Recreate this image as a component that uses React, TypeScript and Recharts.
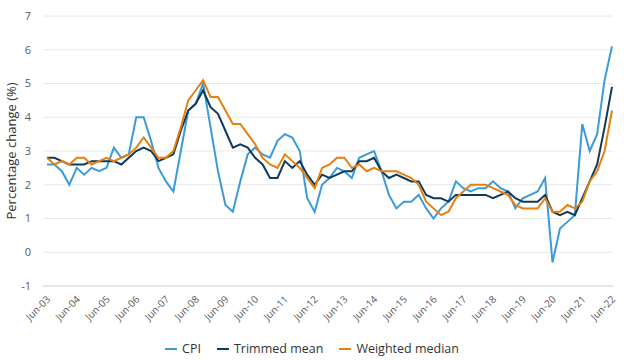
import React from 'react';
import { LineChart, Line, XAxis, YAxis, CartesianGrid, Legend } from 'recharts';

const quarters: string[] = (() => {
  const out: string[] = [];
  const months = ['Jun', 'Sep', 'Dec', 'Mar'];
  for (let i = 0; i < 77; i++) {
    const m = months[i % 4];
    const y = m === 'Mar' ? 3 + Math.floor((i + 2) / 4) : 3 + Math.floor(i / 4);
    out.push(`${m}-${String(y).padStart(2, '0')}`);
  }
  return out;
})();

const cpi = [
  2.6, 2.6, 2.4, 2.0, 2.5, 2.3, 2.5, 2.4, 2.5, 3.1, 2.8, 2.9, 4.0, 4.0, 3.3, 2.5, 2.1, 1.8, 3.0, 4.2,
  4.4, 5.0, 3.7, 2.4, 1.4, 1.2, 2.1, 2.9, 3.1, 2.9, 2.8, 3.3, 3.5, 3.4, 3.0, 1.6, 1.2, 2.0, 2.2, 2.5,
  2.4, 2.2, 2.8, 2.9, 3.0, 2.4, 1.7, 1.3, 1.5, 1.5, 1.7, 1.3, 1.0, 1.3, 1.5, 2.1, 1.9, 1.8, 1.9, 1.9,
  2.1, 1.9, 1.8, 1.3, 1.6, 1.7, 1.8, 2.2, -0.3, 0.7, 0.9, 1.1, 3.8, 3.0, 3.5, 5.1, 6.1,
];

const trimmedMean = [
  2.8, 2.8, 2.7, 2.6, 2.6, 2.6, 2.7, 2.7, 2.7, 2.7, 2.6, 2.8, 3.0, 3.1, 3.0, 2.7, 2.8, 2.9, 3.6, 4.2,
  4.4, 4.8, 4.3, 4.1, 3.6, 3.1, 3.2, 3.1, 2.8, 2.6, 2.2, 2.2, 2.7, 2.5, 2.7, 2.3, 2.0, 2.3, 2.2, 2.3,
  2.4, 2.4, 2.7, 2.7, 2.8, 2.4, 2.2, 2.3, 2.2, 2.1, 2.1, 1.7, 1.6, 1.6, 1.5, 1.7, 1.7, 1.7, 1.7, 1.7,
  1.6, 1.7, 1.8, 1.6, 1.5, 1.5, 1.5, 1.7, 1.2, 1.1, 1.2, 1.1, 1.6, 2.1, 2.6, 3.7, 4.9,
];

const weightedMedian = [
  2.8, 2.6, 2.7, 2.6, 2.8, 2.8, 2.6, 2.7, 2.8, 2.7, 2.8, 2.9, 3.1, 3.4, 3.1, 2.8, 2.8, 3.0, 3.7, 4.5,
  4.8, 5.1, 4.6, 4.6, 4.2, 3.8, 3.8, 3.5, 3.2, 2.8, 2.6, 2.5, 2.9, 2.7, 2.5, 2.2, 1.9, 2.5, 2.6, 2.8,
  2.8, 2.5, 2.6, 2.4, 2.5, 2.4, 2.4, 2.4, 2.3, 2.2, 2.0, 1.5, 1.3, 1.1, 1.2, 1.6, 1.8, 2.0, 2.0, 2.0,
  1.9, 1.8, 1.7, 1.4, 1.3, 1.3, 1.3, 1.6, 1.2, 1.2, 1.4, 1.3, 1.5, 2.1, 2.4, 3.0, 4.2,
];

const yTicks = [-1, 0, 1, 2, 3, 4, 5, 6, 7];

const seriesNames = ['CPI', 'Trimmed mean', 'Weighted median'];
const seriesColors = ['#3a9bd8', '#0f3a5c', '#e6800f'];

const data = quarters.map((q, i) => ({
  q,
  cpi: cpi[i],
  tm: trimmedMean[i],
  wm: weightedMedian[i],
}));

const FONT = '"Open Sans", "Noto Sans", sans-serif';

const XTick = (props: any) => {
  const { x, y, payload } = props;
  return (
    <g transform={`translate(${x + 4},${y + 6})`}>
      <text x={0} y={0} textAnchor="end" transform="rotate(-45)" fontSize={10} fill="#595959" fontFamily={FONT}>
        {payload.value}
      </text>
    </g>
  );
};

const renderLegend = () => (
  <div style={{ display: 'flex', justifyContent: 'center', alignItems: 'center', gap: 16, fontFamily: FONT, fontSize: 12.5, color: '#333' }}>
    {seriesNames.map((n, i) => (
      <div key={n} style={{ display: 'flex', alignItems: 'center' }}>
        <span style={{ display: 'inline-block', width: 12, height: 2, background: seriesColors[i], marginRight: 5 }} />
        <span>{n}</span>
      </div>
    ))}
  </div>
);

export default function App() {
  return (
    <div style={{ position: 'absolute', left: 0, top: 0, width: 624, height: 361, background: '#fff' }}>
      <LineChart width={624} height={361} data={data} margin={{ top: 16, right: 11, left: 0, bottom: 25 }}>
        <CartesianGrid horizontal vertical={false} stroke="#e8e8e8" />
        <XAxis
          dataKey="q"
          interval={3}
          tick={<XTick />}
          tickLine={false}
          axisLine={{ stroke: '#d4dce8' }}
          height={50}
          padding={{ left: 4, right: 1 }}
        />
        <YAxis
          domain={[-1, 7]}
          ticks={yTicks}
          width={43}
          tickLine={false}
          axisLine={false}
          tickSize={6}
          tickMargin={6}
          tick={{ fontSize: 11, fill: '#595959', fontFamily: FONT }}
          label={{
            content: () => (
              <text x={11} y={151} transform="rotate(-90, 11, 151)" textAnchor="middle" dominantBaseline="central" fontSize={13} fill="#333" fontFamily={FONT}>
                Percentage change (%)
              </text>
            ),
          }}
        />
        <Line type="linear" dataKey="cpi" name="CPI" stroke={seriesColors[0]} strokeWidth={2} dot={false} isAnimationActive={false} />
        <Line type="linear" dataKey="tm" name="Trimmed mean" stroke={seriesColors[1]} strokeWidth={2} dot={false} isAnimationActive={false} />
        <Line type="linear" dataKey="wm" name="Weighted median" stroke={seriesColors[2]} strokeWidth={2} dot={false} isAnimationActive={false} />
        <Legend verticalAlign="middle" align="center" content={renderLegend} wrapperStyle={{ top: 340, left: 0, width: 624 }} />
      </LineChart>
    </div>
  );
}
